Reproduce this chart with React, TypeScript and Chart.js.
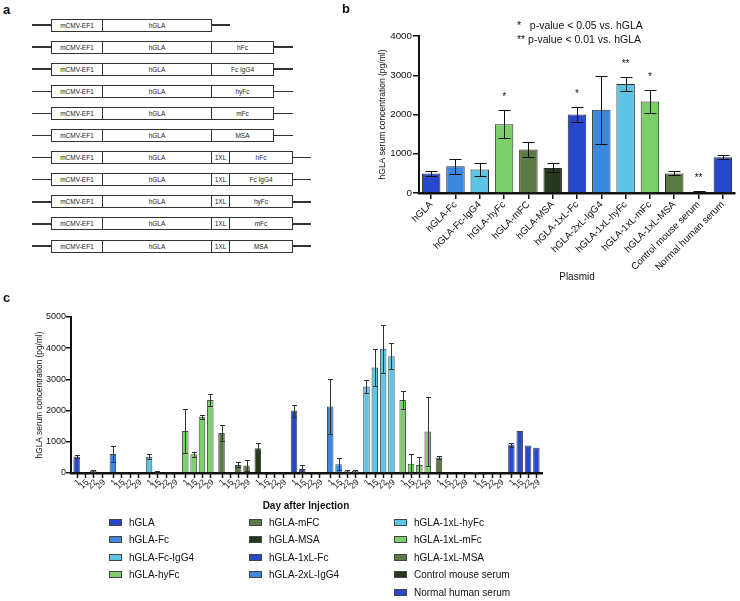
import React, { useEffect, useRef } from 'react';
import { Chart, registerables } from 'chart.js';
Chart.register(...registerables);

const FONT = '"Liberation Sans", Arial, Helvetica, sans-serif';
Chart.defaults.font.family = FONT;

// ---------- Panel a (constructs) ----------
const promoterLabel = 'mCMV-EF1';
const geneLabel = 'hGLA';
const linkerLabel = '1XL';
const fusionPartners = ['', 'hFc', 'Fc IgG4', 'hyFc', 'mFc', 'MSA', 'hFc', 'Fc IgG4', 'hyFc', 'mFc', 'MSA'];
const hasLinker = [false, false, false, false, false, false, true, true, true, true, true];

// ---------- Panel b ----------
const plasmids = [
  'hGLA', 'hGLA-Fc', 'hGLA-Fc-IgG4', 'hGLA-hyFc', 'hGLA-mFC', 'hGLA-MSA', 'hGLA-1xL-Fc',
  'hGLA-2xL-IgG4', 'hGLA-1xL-hyFc', 'hGLA-1xL-mFc', 'hGLA-1xL-MSA', 'Control mouse serum', 'Normal human serum',
];
const meanConc = [500, 680, 600, 1750, 1110, 640, 2000, 2120, 2780, 2330, 500, 30, 910];
const semConc = [70, 190, 165, 360, 200, 115, 195, 865, 180, 300, 50, 12, 50];
const significance = ['', '', '', '*', '', '', '*', '', '**', '*', '', '**', ''];
const sigNote1 = '*   p-value < 0.05 vs. hGLA';
const sigNote2 = '** p-value < 0.01 vs. hGLA';

const BLUE = '#2748cb';
const MID = '#3b88de';
const CYAN = '#5ec6e4';
const LGREEN = '#7ccf6b';
const OLIVE = '#5b7a45';
const DARK = '#26381e';
const plasmidColors = [BLUE, MID, CYAN, LGREEN, OLIVE, DARK, BLUE, MID, CYAN, LGREEN, OLIVE, DARK, BLUE];

// ---------- Panel c ----------
const groupNames = [
  'hGLA', 'hGLA-Fc', 'hGLA-Fc-IgG4', 'hGLA-hyFc', 'hGLA-mFC', 'hGLA-MSA', 'hGLA-1xL-Fc',
  'hGLA-2xL-IgG4', 'hGLA-1xL-hyFc', 'hGLA-1xL-mFc', 'hGLA-1xL-MSA', 'Control mouse serum', 'Normal human serum',
];
const days = ['1', '15', '22', '29'];
const day1Mean = [530, 610, 520, 1350, 1280, 790, 2000, 2130, 2770, 2340, 500, 30, 910];
const day1Err = [50, 260, 85, 700, 270, 160, 190, 870, 195, 290, 60, 10, 65];
const day15Mean = [30, 0, 20, 600, 25, 15, 130, 280, 3380, 300, 0, 0, 1350];
const day15Err = [0, 0, 30, 80, 0, 0, 115, 190, 595, 300, 0, 0, 0];
const day22Mean = [65, 0, 15, 1800, 260, 0, 0, 60, 3980, 260, 0, 0, 880];
const day22Err = [35, 0, 0, 60, 80, 0, 0, 50, 770, 260, 0, 0, 0];
const day29Mean = [0, 0, 0, 2340, 240, 15, 0, 65, 3740, 1330, 0, 0, 810];
const day29Err = [0, 0, 0, 190, 190, 0, 0, 45, 415, 1100, 0, 0, 0];
const xTitleC = 'Day after Injection';
const yTitle = 'hGLA serum concentration (pg/ml)';

// ---------- helpers ----------
function Txt(props: { x: number; y: number; size: number; bold?: boolean; align?: 'left' | 'center'; children: any; w?: number }) {
  const { x, y, size, bold, align = 'left', children, w = 300 } = props;
  const lh = Math.round(size * 1.3);
  const left = align === 'center' ? x - w / 2 : x;
  return (
    <div style={{
      position: 'absolute', left, top: y - lh / 2, width: w, height: lh, lineHeight: lh + 'px',
      fontSize: size, fontWeight: bold ? 700 : 400, textAlign: align, whiteSpace: 'pre', color: '#111',
    }}>{children}</div>
  );
}

const plainTick = (v: any) => String(v);

const errorPlugin = (capW: number, color: string) => ({
  id: 'errbars',
  afterDatasetsDraw(chart: any) {
    const ctx = chart.ctx;
    const ys = chart.scales.y;
    chart.data.datasets.forEach((ds: any, di: number) => {
      const errs = ds.errors;
      if (!errs) return;
      const meta = chart.getDatasetMeta(di);
      meta.data.forEach((el: any, i: number) => {
        const m = ds.data[i];
        const e = errs[i];
        if (!e) return;
        const top = Math.round(ys.getPixelForValue(m + e)) + 0.5;
        const bot = Math.round(ys.getPixelForValue(Math.max(0, m - e))) + 0.5;
        const x = Math.round(el.x) + 0.5;
        ctx.save();
        ctx.strokeStyle = color;
        ctx.lineWidth = 1;
        ctx.beginPath();
        ctx.moveTo(x, top); ctx.lineTo(x, bot);
        ctx.moveTo(x - capW / 2, top); ctx.lineTo(x + capW / 2, top);
        ctx.moveTo(x - capW / 2, bot); ctx.lineTo(x + capW / 2, bot);
        ctx.stroke();
        ctx.restore();
      });
    });
  },
});

const starPlugin = {
  id: 'stars',
  afterDatasetsDraw(chart: any) {
    const ctx = chart.ctx;
    const ys = chart.scales.y;
    const ds: any = chart.data.datasets[0];
    const meta = chart.getDatasetMeta(0);
    meta.data.forEach((el: any, i: number) => {
      const s = ds.stars[i];
      if (!s) return;
      const top = ys.getPixelForValue(ds.data[i] + ds.errors[i]);
      ctx.save();
      ctx.fillStyle = '#111';
      ctx.font = `10px ${FONT}`;
      ctx.textAlign = 'center';
      ctx.textBaseline = 'alphabetic';
      ctx.fillText(s, el.x, top - 10);
      ctx.restore();
    });
  },
};

const dayTickPlugin = {
  id: 'dayTicks',
  afterDraw(chart: any) {
    const ctx = chart.ctx;
    const base = chart.chartArea.bottom;
    chart.data.datasets.forEach((ds: any, di: number) => {
      const meta = chart.getDatasetMeta(di);
      meta.data.forEach((el: any) => {
        const x = Math.round(el.x) + 0.5;
        ctx.save();
        ctx.strokeStyle = '#111';
        ctx.lineWidth = 1.5;
        ctx.beginPath();
        ctx.moveTo(x, base);
        ctx.lineTo(x, base + 5);
        ctx.stroke();
        ctx.translate(el.x + 2.5, base + 8);
        ctx.rotate(-Math.PI / 4);
        ctx.fillStyle = '#222';
        ctx.font = `8.5px ${FONT}`;
        ctx.textAlign = 'right';
        ctx.textBaseline = 'middle';
        ctx.fillText(ds.label, 0, 0);
        ctx.restore();
      });
    });
  },
};

// ---------- Panel A ----------
function PanelA() {
  const rowY = (i: number) => 25 + i * 22.1;
  const boxStyle = (left: number, width: number, y: number): any => ({
    position: 'absolute', left, top: y - 6.5, width, height: 13, border: '1px solid #333', boxSizing: 'border-box',
    fontSize: 6.5, lineHeight: '11px', textAlign: 'center', color: '#222', background: '#fff',
  });
  const line = (x1: number, x2: number, y: number): any => ({
    position: 'absolute', left: x1, top: y - 0.75, width: x2 - x1, height: 1.5, background: '#333',
  });
  return (
    <>
      <Txt x={3} y={9} size={13} bold>a</Txt>
      {fusionPartners.map((fp, i) => {
        const y = rowY(i);
        const items: any[] = [];
        items.push(<div key="l" style={line(32, 52, y)} />);
        items.push(<div key="p" style={boxStyle(51, 52, y)}>{promoterLabel}</div>);
        items.push(<div key="g" style={boxStyle(102, 110, y)}>{geneLabel}</div>);
        if (!fp) {
          items.push(<div key="r" style={line(211, 230, y)} />);
        } else if (hasLinker[i]) {
          items.push(<div key="k" style={boxStyle(211, 19, y)}>{linkerLabel}</div>);
          items.push(<div key="f" style={boxStyle(229, 64, y)}>{fp}</div>);
          items.push(<div key="r" style={line(292, 311, y)} />);
        } else {
          items.push(<div key="f" style={boxStyle(211, 63, y)}>{fp}</div>);
          items.push(<div key="r" style={line(273, 293, y)} />);
        }
        return <React.Fragment key={i}>{items}</React.Fragment>;
      })}
    </>
  );
}

// ---------- Panel B ----------
function PanelB() {
  const ref = useRef<HTMLCanvasElement>(null);
  useEffect(() => {
    const chart = new Chart(ref.current as HTMLCanvasElement, {
      type: 'bar',
      data: {
        labels: plasmids,
        datasets: [{
          data: meanConc, errors: semConc, stars: significance,
          backgroundColor: plasmidColors, borderColor: '#2a2a2a', borderWidth: 1,
          categoryPercentage: 0.8, barPercentage: 0.95,
        } as any],
      },
      options: {
        responsive: false,
        animation: false,
        layout: { padding: { left: 48, right: 5, top: 36, bottom: 17 } },
        plugins: { legend: { display: false }, tooltip: { enabled: false } },
        scales: {
          x: {
            offset: true,
            grid: { display: true, offset: false, drawOnChartArea: false, drawTicks: true, tickLength: 6, color: '#111', lineWidth: 1.5 },
            border: { display: true, color: '#111', width: 2.5 },
            ticks: { autoSkip: false, maxRotation: 45, minRotation: 45, color: '#111', font: { size: 9.7, family: FONT }, padding: 0 },
            title: { display: true, text: 'Plasmid', color: '#111', font: { size: 10, family: FONT }, padding: { top: 0, bottom: 0 } },
            afterFit: (s: any) => { s.height = 90; },
          },
          y: {
            min: 0, max: 4000,
            ticks: { stepSize: 1000, color: '#111', font: { size: 9.8, family: FONT }, padding: 1, callback: plainTick },
            grid: { display: true, drawOnChartArea: false, drawTicks: true, tickLength: 6, color: '#111', lineWidth: 1.5 },
            border: { display: true, color: '#111', width: 2 },
            title: { display: true, text: yTitle, color: '#111', font: { size: 8.5, family: FONT }, padding: 0 },
            afterFit: (s: any) => { s.width = 41; },
          },
        },
      } as any,
      plugins: [errorPlugin(12, '#111'), starPlugin],
    });
    return () => chart.destroy();
  }, []);
  return (
    <>
      <canvas ref={ref} width={410} height={300} style={{ position: 'absolute', left: 330, top: 0, width: 410, height: 300 }} />
      <Txt x={342} y={8} size={13} bold>b</Txt>
      <Txt x={517} y={25} size={10.5}>{sigNote1}</Txt>
      <Txt x={517} y={39} size={10.5}>{sigNote2}</Txt>
    </>
  );
}

// ---------- Panel C ----------
function PanelC() {
  const ref = useRef<HTMLCanvasElement>(null);
  useEffect(() => {
    const means = [day1Mean, day15Mean, day22Mean, day29Mean];
    const errs = [day1Err, day15Err, day22Err, day29Err];
    const chart = new Chart(ref.current as HTMLCanvasElement, {
      type: 'bar',
      data: {
        labels: groupNames,
        datasets: days.map((d, i) => ({
          label: d, data: means[i], errors: errs[i],
          backgroundColor: plasmidColors, borderColor: 'rgba(40,40,40,0.85)', borderWidth: 1,
          categoryPercentage: 0.92, barPercentage: 0.78,
        } as any)),
      },
      options: {
        responsive: false,
        animation: false,
        layout: { padding: { left: 35, right: 198, top: 17, bottom: 0 } },
        plugins: { legend: { display: false }, tooltip: { enabled: false } },
        scales: {
          x: {
            offset: true,
            grid: { display: true, drawOnChartArea: false, drawTicks: false },
            border: { display: true, color: '#111', width: 2.5 },
            ticks: { display: false },
            afterFit: (s: any) => { s.height = 27; },
          },
          y: {
            min: 0, max: 5000,
            ticks: { stepSize: 1000, color: '#111', font: { size: 9, family: FONT }, padding: 0, callback: plainTick },
            grid: { display: true, drawOnChartArea: false, drawTicks: true, tickLength: 5, color: '#111', lineWidth: 1.5 },
            border: { display: true, color: '#111', width: 2 },
            title: { display: true, text: yTitle, color: '#111', font: { size: 8.3, family: FONT }, padding: 0 },
            afterFit: (s: any) => { s.width = 36; },
          },
        },
      } as any,
      plugins: [errorPlugin(5, '#333'), dayTickPlugin],
    });
    return () => chart.destroy();
  }, []);
  const colX = [109, 249, 394];
  return (
    <>
      <canvas ref={ref} width={740} height={200} style={{ position: 'absolute', left: 0, top: 300, width: 740, height: 200 }} />
      <Txt x={3} y={297} size={13} bold>c</Txt>
      <Txt x={306} y={505} size={10} bold align="center" w={200}>{xTitleC}</Txt>
      {groupNames.map((n, i) => {
        const col = i < 4 ? 0 : i < 8 ? 1 : 2;
        const row = col === 0 ? i : col === 1 ? i - 4 : i - 8;
        const y = 522 + row * 17.5;
        return (
          <React.Fragment key={n}>
            <div style={{ position: 'absolute', left: colX[col], top: y - 3.5, width: 13, height: 7, background: plasmidColors[i], border: '1px solid #444', boxSizing: 'border-box' }} />
            <Txt x={colX[col] + 20} y={y} size={10}>{n}</Txt>
          </React.Fragment>
        );
      })}
    </>
  );
}

export default function App() {
  return (
    <div style={{ position: 'fixed', left: 0, top: 0, width: 740, height: 601, background: '#fff', fontFamily: FONT, color: '#111', overflow: 'hidden' }}>
      <PanelA />
      <PanelB />
      <PanelC />
    </div>
  );
}
